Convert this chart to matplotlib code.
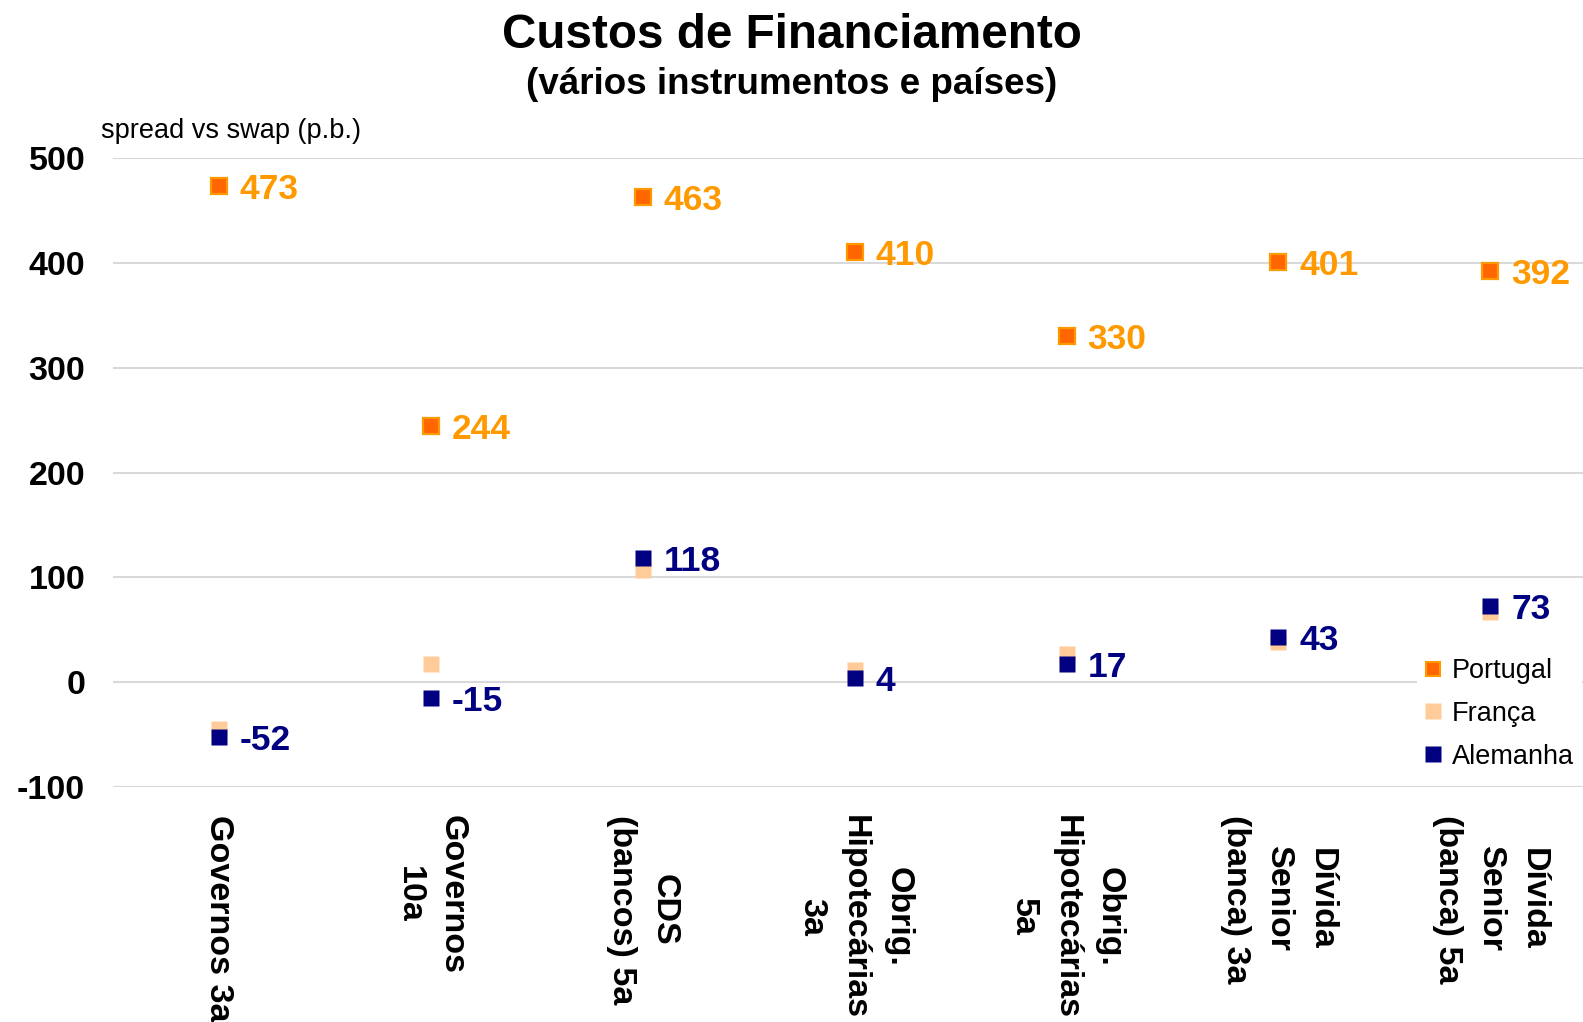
"""Funding costs by instrument and country (spread vs swap, bp)."""

import matplotlib
matplotlib.use("Agg")
import matplotlib.pyplot as plt
from matplotlib.lines import Line2D

plt.rcParams["font.family"] = ["Liberation Sans", "DejaVu Sans"]

_PT_FACE = "#ff6600"
_PT_EDGE = "#ff9900"
_FR = "#ffcc99"
_DE = "#000080"
_GRID = "#d9d9d9"

categories = ["Governos 3a", "Governos\n10a", "CDS\n(bancos) 5a",
              "Obrig.\nHipotecárias\n3a", "Obrig.\nHipotecárias\n5a",
              "Dívida\nSenior\n(banca) 3a", "Dívida\nSenior\n(banca) 5a"]
portugal = [473, 244, 463, 410, 330, 401, 392]
franca = [-45, 17, 107, 12, 27, 38, 67]
alemanha = [-52, -15, 118, 4, 17, 43, 73]
yticks = [-100, 0, 100, 200, 300, 400, 500]


def main(out_path="out.png"):
    fig = plt.figure(figsize=(15.83, 10.22), dpi=100)
    ax = fig.add_axes([0.0714, 0.2299, 0.937, 0.6155])
    x = list(range(len(categories)))

    ax.plot(x, portugal, ls="none", marker="s", ms=11, mfc=_PT_FACE, mec=_PT_EDGE,
            mew=1.6, zorder=3)
    ax.plot(x, franca, ls="none", marker="s", ms=12.2, mfc=_FR, mec="none", zorder=3)
    ax.plot(x, alemanha, ls="none", marker="s", ms=12.2, mfc=_DE, mec="none", zorder=4)

    for series, color in ((portugal, _PT_EDGE), (alemanha, _DE)):
        for xi, v in zip(x, series):
            ax.annotate(f"{v}", (xi, v), xytext=(15, 0), textcoords="offset points",
                        ha="left", va="center_baseline", fontsize=25.5,
                        fontweight="bold", color=color, zorder=5)

    ax.set_xlim(-0.5, len(categories) - 0.5)
    ax.set_ylim(-100, 500)
    ax.set_yticks(yticks)
    ax.set_yticklabels([str(t) for t in yticks], fontsize=24.5, fontweight="bold")
    ax.set_xticks(x)
    ax.set_xticklabels(categories, rotation=270, fontsize=24.5, fontweight="bold",
                       ha="center", va="top", multialignment="center", linespacing=1.5)
    ax.tick_params(axis="both", length=0)
    ax.tick_params(axis="y", pad=20)
    ax.tick_params(axis="x", pad=20)
    for s in ax.spines.values():
        s.set_visible(False)
    ax.yaxis.grid(True, color=_GRID, lw=1.5)
    ax.set_axisbelow(True)

    handles = [
        Line2D([], [], ls="none", marker="s", ms=10, mfc=_PT_FACE, mec=_PT_EDGE, mew=1.5),
        Line2D([], [], ls="none", marker="s", ms=11.5, mfc=_FR, mec="none"),
        Line2D([], [], ls="none", marker="s", ms=11.5, mfc=_DE, mec="none"),
    ]
    leg = fig.legend(handles, ["Portugal", "França", "Alemanha"], loc="upper left",
                     bbox_to_anchor=(1417 / 1583, 1 - 650 / 1022), fontsize=19.5,
                     frameon=True, facecolor="white", edgecolor="none", framealpha=1,
                     handlelength=0.6, handletextpad=0.4, labelspacing=0.62,
                     borderpad=0.3, borderaxespad=0)
    leg.set_zorder(6)

    fig.text(0.5, 1 - 36 / 1022, "Custos de Financiamento", ha="center", va="center",
             fontsize=34.3, fontweight="bold")
    fig.text(0.5, 1 - 84 / 1022, "(vários instrumentos e países)", ha="center",
             va="center", fontsize=26.5, fontweight="bold")
    fig.text(101 / 1583, 1 - 131 / 1022, "spread vs swap (p.b.)", ha="left",
             va="center", fontsize=19.5)

    fig.savefig(out_path, dpi=100)
    plt.close(fig)


if __name__ == "__main__":
    main()
